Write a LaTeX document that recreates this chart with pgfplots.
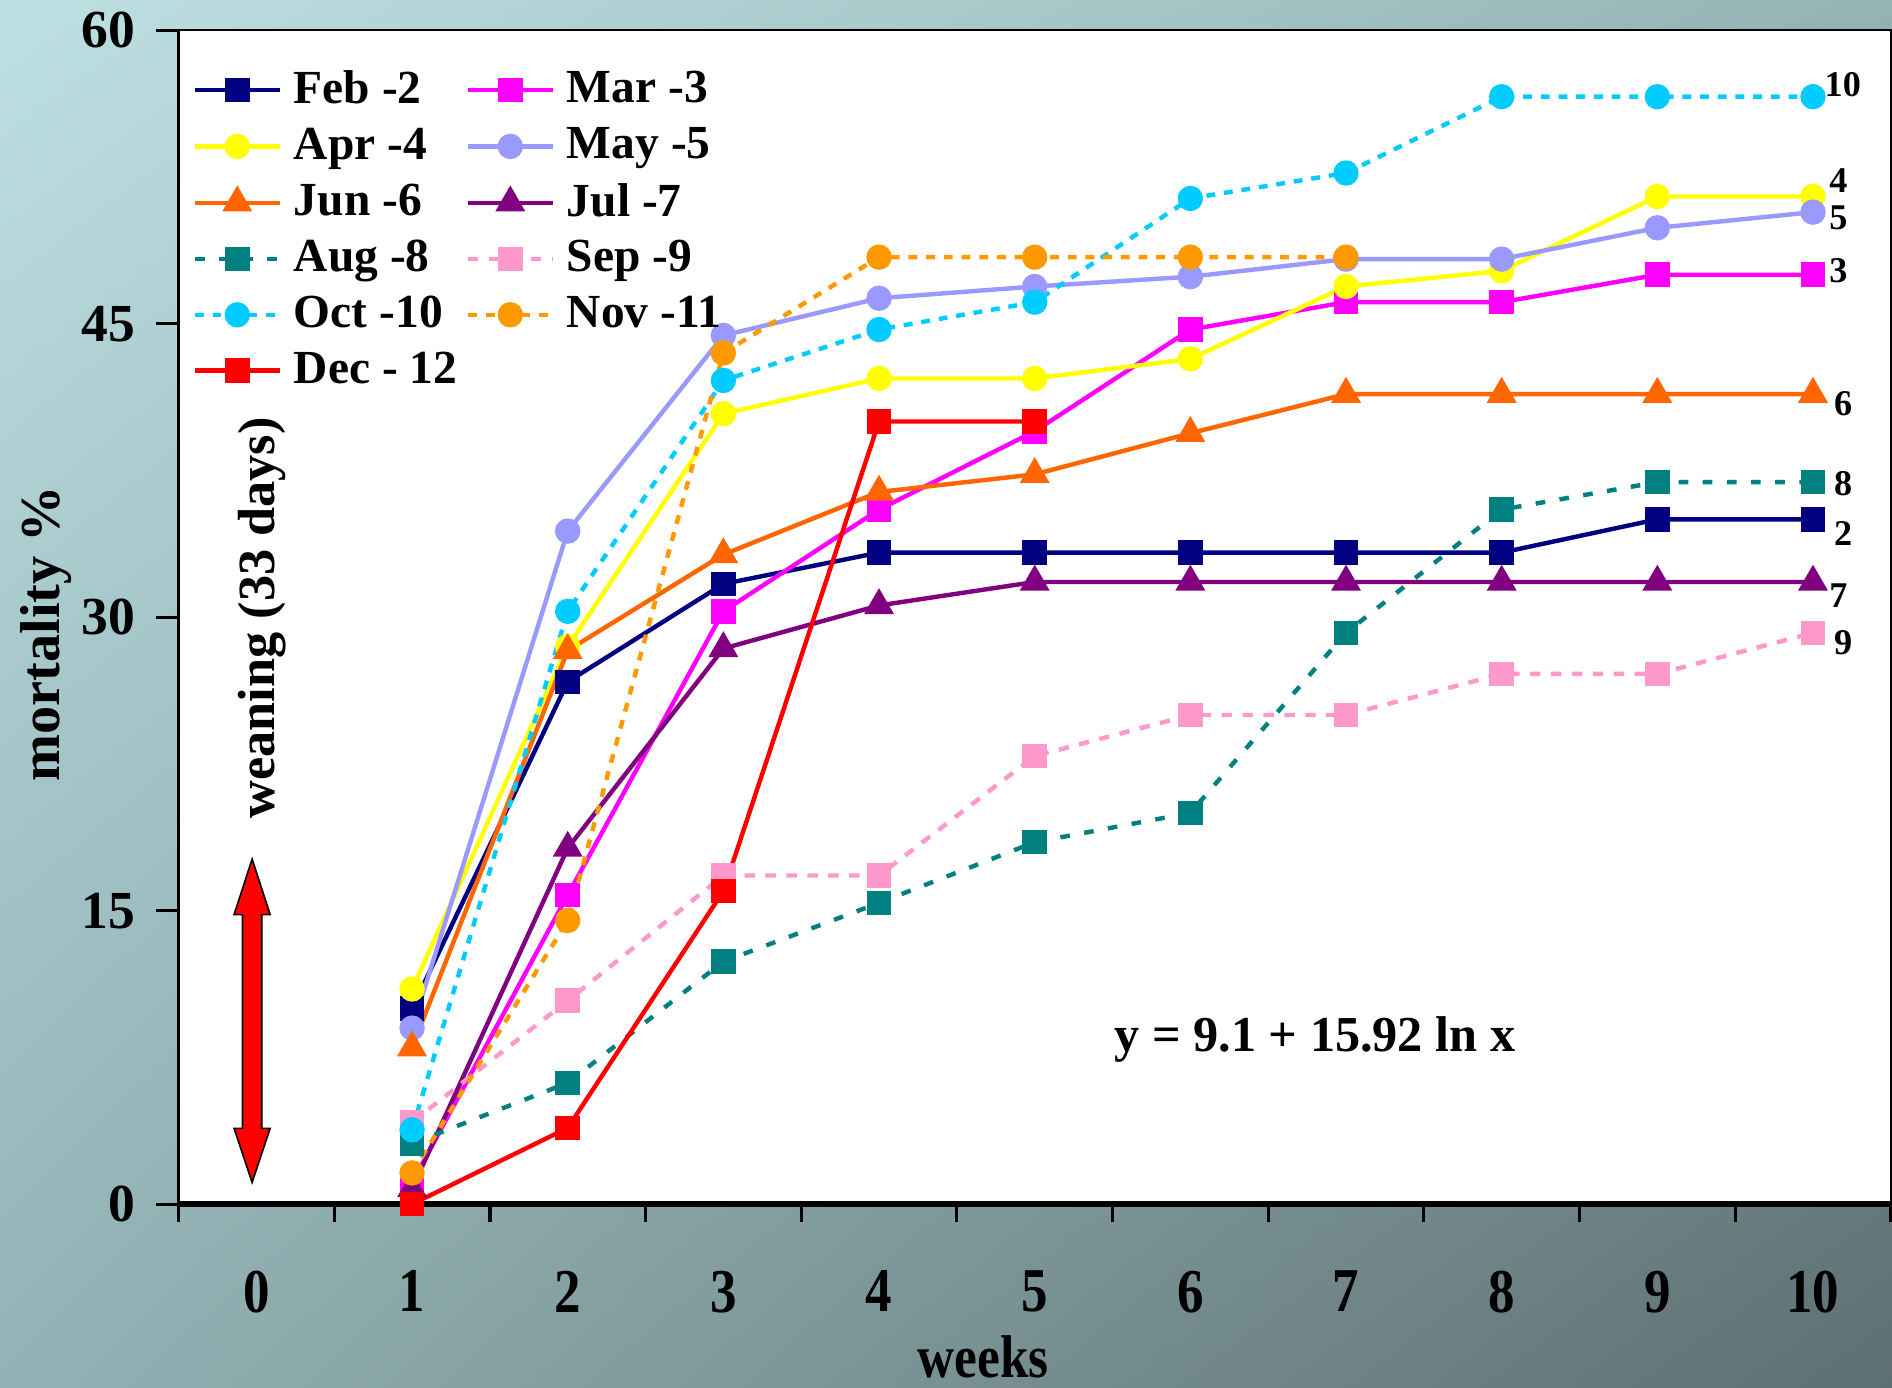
\documentclass[border=0pt]{standalone}
\usepackage{pgfplots}
\pgfplotsset{compat=1.18}
\usetikzlibrary{shadings}
\usepackage{graphicx}
\usepackage{fontspec}
\setmainfont{Liberation Serif}
\definecolor{cFeb}{HTML}{000080}
\definecolor{cMar}{HTML}{FF00FF}
\definecolor{cApr}{HTML}{FFFF00}
\definecolor{cMay}{HTML}{9999FF}
\definecolor{cJun}{HTML}{FF6600}
\definecolor{cJul}{HTML}{800080}
\definecolor{cAug}{HTML}{008080}
\definecolor{cSep}{HTML}{FF99CC}
\definecolor{cOct}{HTML}{00CCFF}
\definecolor{cNov}{HTML}{FF9900}
\definecolor{cDec}{HTML}{FF0000}
\definecolor{bgUL}{RGB}{189,224,227}
\definecolor{bgUR}{RGB}{150,179,180}
\definecolor{bgLL}{RGB}{147,178,181}
\definecolor{bgLR}{RGB}{93,111,113}
\begin{document}
\begin{tikzpicture}
\shade[upper left=bgUL, upper right=bgUR, lower left=bgLL, lower right=bgLR] (-44.4pt,-45.6pt) rectangle (426.0pt,299.4pt);
\begin{axis}[
  at={(0,0)}, anchor=south west,
  scale only axis, width=425.7pt, height=291.9pt,
  xmin=-0.5, xmax=10.5, ymin=0, ymax=60,
  clip=false,
  axis background/.style={fill=white},
  axis line style={black, line width=0.6pt},
  xtick={0,...,10},
  minor xtick={-0.5,0.5,...,10.5},
  minor tick length=4.5pt,
  major tick length=5.5pt,
  tick align=outside,
  major x tick style={draw=none},
  minor x tick style={black, line width=0.8pt},
  ytick={0,15,30,45,60},
  ytick style={black, line width=0.8pt},
  xtick pos=bottom, ytick pos=left,
  /pgf/number format/assume math mode=true,
  xticklabel={\scalebox{0.85}[1]{\pgfmathprintnumber{\tick}}},
  xticklabel style={font=\bfseries\fontsize{15.5}{16}\selectfont, yshift=-7.5pt},
  yticklabel style={font=\bfseries\fontsize{13.3}{14}\selectfont, xshift=-1.8pt},
  xlabel={\scalebox{0.85}[1]{weeks}},
  ylabel={mortality \%},
  every axis x label/.style={at={(axis description cs:0.47,0)}, yshift=-38pt, anchor=center, font=\bfseries\fontsize{15}{16}\selectfont},
  every axis y label/.style={at={(axis description cs:0,0.486)}, xshift=-33pt, rotate=90, anchor=center, font=\bfseries\fontsize{14}{15}\selectfont},
  legend columns=2,
  legend cell align=left,
  legend style={at={(axis description cs:0.0078,0.973)}, anchor=north west, draw=none, fill=none, inner sep=0pt,
    font=\bfseries\fontsize{11.8}{12}\selectfont, row sep=0.5pt,
    /tikz/every odd column/.append style={column sep=1pt},
    /tikz/every even column/.append style={column sep=0.1pt},
    /tikz/column 3/.append style={column sep=5.5pt}},
  legend image code/.code={\draw[mark repeat=2,mark phase=2] plot coordinates {(0cm,0cm) (0.37cm,0cm) (0.74cm,0cm)};},
  every axis plot/.append style={line width=1.1pt},
]
\draw[line width=1.6pt, black] (axis cs:-0.5,0) -- (axis cs:10.5,0);
\addplot[color=cFeb, mark=square*, mark size=2.5pt, mark options={solid, fill=cFeb}] coordinates {(1,10.0)(2,26.7)(3,31.7)(4,33.3)(5,33.3)(6,33.3)(7,33.3)(8,33.3)(9,35.0)(10,35.0)};
\addlegendentry{Feb -2}
\addplot[color=cMar, mark=square*, mark size=2.5pt, mark options={solid, fill=cMar}] coordinates {(1,1.1)(2,15.8)(3,30.3)(4,35.5)(5,39.5)(6,44.7)(7,46.1)(8,46.1)(9,47.5)(10,47.5)};
\addlegendentry{Mar -3}
\addplot[color=cApr, mark=*, mark size=2.6pt, mark options={solid, fill=cApr}] coordinates {(1,11.0)(2,28.5)(3,40.4)(4,42.2)(5,42.2)(6,43.2)(7,46.9)(8,47.7)(9,51.5)(10,51.5)};
\addlegendentry{Apr -4}
\addplot[color=cMay, mark=*, mark size=2.6pt, mark options={solid, fill=cMay}] coordinates {(1,9.0)(2,34.4)(3,44.4)(4,46.3)(5,46.9)(6,47.4)(7,48.3)(8,48.3)(9,49.9)(10,50.7)};
\addlegendentry{May -5}
\addplot[color=cJun, mark=triangle*, mark size=3.2pt, mark options={solid, fill=cJun}] coordinates {(1,8.0)(2,28.3)(3,33.2)(4,36.4)(5,37.3)(6,39.4)(7,41.4)(8,41.4)(9,41.4)(10,41.4)};
\addlegendentry{Jun -6}
\addplot[color=cJul, mark=triangle*, mark size=3.2pt, mark options={solid, fill=cJul}] coordinates {(1,0.8)(2,18.2)(3,28.4)(4,30.6)(5,31.8)(6,31.8)(7,31.8)(8,31.8)(9,31.8)(10,31.8)};
\addlegendentry{Jul -7}
\addplot[color=cAug, dash pattern=on 2.4pt off 3.6pt, mark=square*, mark size=2.5pt, mark options={solid, fill=cAug}] coordinates {(1,3.1)(2,6.2)(3,12.4)(4,15.4)(5,18.5)(6,20.0)(7,29.2)(8,35.5)(9,36.9)(10,36.9)};
\addlegendentry{Aug -8}
\addplot[color=cSep, dash pattern=on 2.6pt off 2.6pt, mark=square*, mark size=2.5pt, mark options={solid, fill=cSep}] coordinates {(1,4.2)(2,10.4)(3,16.8)(4,16.8)(5,22.9)(6,25.0)(7,25.0)(8,27.1)(9,27.1)(10,29.2)};
\addlegendentry{Sep -9}
\addplot[color=cOct, dash pattern=on 2.2pt off 2.2pt, mark=*, mark size=2.6pt, mark options={solid, fill=cOct}] coordinates {(1,3.8)(2,30.3)(3,42.1)(4,44.7)(5,46.1)(6,51.4)(7,52.7)(8,56.6)(9,56.6)(10,56.6)};
\addlegendentry{Oct -10}
\addplot[color=cNov, dash pattern=on 2.2pt off 2.2pt, mark=*, mark size=2.6pt, mark options={solid, fill=cNov}] coordinates {(1,1.6)(2,14.5)(3,43.5)(4,48.4)(5,48.4)(6,48.4)(7,48.4)};
\addlegendentry{Nov -11}
\addplot[color=cDec, mark=square*, mark size=2.5pt, mark options={solid, fill=cDec}] coordinates {(1,0.0)(2,3.9)(3,16.0)(4,40.0)(5,40.0)};
\addlegendentry{Dec - 12}
% end labels
\begin{scope}[font=\bfseries\fontsize{9}{10}\selectfont]
\node[anchor=west, inner sep=0pt] at (axis cs:10.07,57.2) {10};
\node[anchor=west, inner sep=0pt] at (axis cs:10.1,52.3) {4};
\node[anchor=west, inner sep=0pt] at (axis cs:10.1,50.4) {5};
\node[anchor=west, inner sep=0pt] at (axis cs:10.1,47.7) {3};
\node[anchor=west, inner sep=0pt] at (axis cs:10.13,40.9) {6};
\node[anchor=west, inner sep=0pt] at (axis cs:10.13,36.8) {8};
\node[anchor=west, inner sep=0pt] at (axis cs:10.13,34.3) {2};
\node[anchor=west, inner sep=0pt] at (axis cs:10.1,31.1) {7};
\node[anchor=west, inner sep=0pt] at (axis cs:10.13,28.7) {9};
\end{scope}
\node[font=\bfseries\fontsize{12.5}{13}\selectfont] at (axis cs:6.80,8.4) {y = 9.1 + 15.92 ln x};
\node[rotate=90, font=\bfseries\fontsize{13}{14}\selectfont] at (axis cs:0.0345,29.97) {weaning (33 days)};
\filldraw[fill=red, draw=black, line width=0.4pt]
  (axis cs:-0.0275,17.64) -- (axis cs:0.0885,14.80) -- (axis cs:0.0345,14.80) -- (axis cs:0.0345,3.88) -- (axis cs:0.0885,3.88)
  -- (axis cs:-0.0275,1.11) -- (axis cs:-0.1435,3.88) -- (axis cs:-0.0895,3.88) -- (axis cs:-0.0895,14.80) -- (axis cs:-0.1435,14.80) -- cycle;
\end{axis}
\pgfresetboundingbox
\path[use as bounding box] (-44.4pt,-45.6pt) rectangle (426.0pt,299.4pt);
\end{tikzpicture}
\end{document}
